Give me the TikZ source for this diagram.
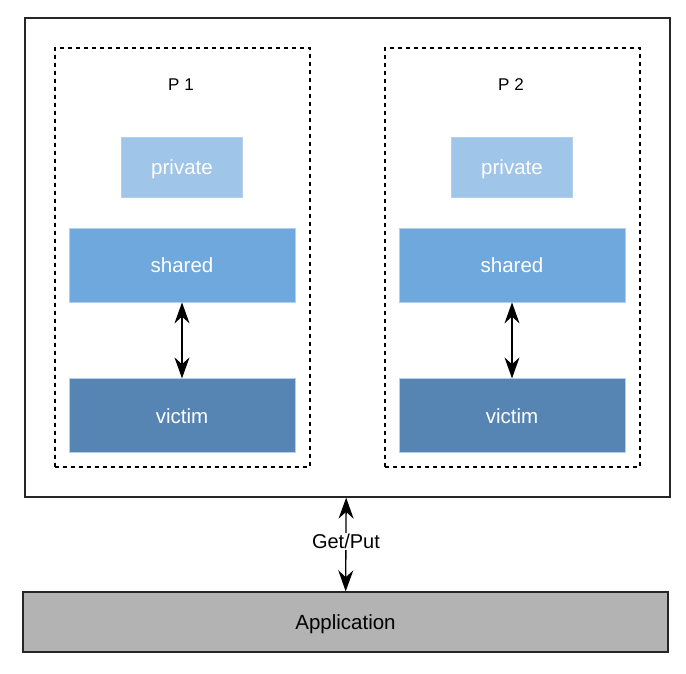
\documentclass[tikz,border=0pt]{standalone}
\usepackage{fontspec}
\setmainfont{Liberation Sans}
\usepackage{xcolor}
\usepackage{tikz}
\usetikzlibrary{arrows.meta, positioning}
\definecolor{privfill}{HTML}{9FC5E8}
\definecolor{sharedfill}{HTML}{6FA8DC}
\definecolor{victimfill}{HTML}{5785B3}
\definecolor{cellline}{HTML}{B4CFEE}
\definecolor{appfill}{HTML}{B3B3B3}
\tikzset{
  cell/.style={rectangle, draw=cellline, line width=0.8pt, text=white, font=\fontsize{20.5}{24}\selectfont, minimum width=226pt, minimum height=74pt, inner sep=0pt, text depth=0pt, text height=15pt},
  privcell/.style={cell, fill=privfill, minimum width=121pt, minimum height=60pt},
  sharedcell/.style={cell, fill=sharedfill},
  victimcell/.style={cell, fill=victimfill},
  proc/.style={rectangle, draw=black, dash pattern=on 4pt off 4pt, line width=1.2pt, minimum width=255pt, minimum height=419pt, inner sep=0pt},
  host/.style={rectangle, draw=black!85, line width=1.3pt, minimum width=645pt, minimum height=479pt, inner sep=0pt},
  app/.style={rectangle, draw=black!85, fill=appfill, line width=1.3pt, minimum width=645pt, minimum height=60pt, font=\fontsize{20.5}{24}\selectfont, text depth=0pt, text height=15pt},
  plabel/.style={font=\fontsize{17}{20}\selectfont},
  arrow/.style={{Stealth[length=21pt, width=15pt]}-{Stealth[length=21pt, width=15pt]}, line width=1.3pt}
}
\begin{document}
\begin{tikzpicture}[x=1pt, y=-1pt]
  \useasboundingbox (0,0) rectangle (686,674);
  \node[host] (store) at (347.5,257.5) {};
  \node[proc] (pa) at (182.5,257.5) {};
  \node[proc] (pb) at (512.5,257.5) {};
  \node[plabel] (pal) at (181,85) {P 1};
  \node[plabel] (pbl) at (511,85) {P 2};
  % process 1
  \node[sharedcell] (sha) at (182,265) {shared};
  \node[privcell, above=30pt of sha] (pra) {private};
  \node[victimcell, below=76pt of sha] (via) {victim};
  % process 2
  \node[sharedcell] (shb) at (512,265) {shared};
  \node[privcell, above=30pt of shb] (prb) {private};
  \node[victimcell, below=76pt of shb] (vib) {victim};
  \node[app] (appl) at (345.5,622) {Application};
  \draw[arrow] (sha) -- (via);
  \draw[arrow] (shb) -- (vib);
  \draw[arrow] (appl) -- node[pos=0.53, fill=white, font=\fontsize{20}{24}\selectfont, inner sep=1pt]{Get/Put} (store);
\end{tikzpicture}
\end{document}
